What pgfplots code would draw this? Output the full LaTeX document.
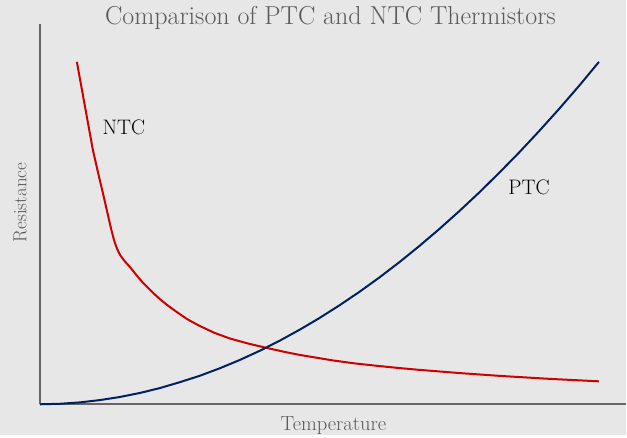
\documentclass[border=0pt]{standalone}
\usepackage{pgfplots}
\pgfplotsset{compat=1.18}
\definecolor{bg}{HTML}{E7E7E7}
\definecolor{axgray}{HTML}{666666}
\definecolor{txtgray}{HTML}{5A5A5A}
\definecolor{ntcred}{HTML}{CC0000}
\definecolor{ptcblue}{HTML}{002060}
\begin{document}
\begin{tikzpicture}[x=1pt,y=1pt]
\fill[bg] (-40,-31) rectangle (587,405);
\begin{axis}[
    at={(0,0)}, anchor=origin,
    scale only axis,
    width=587pt, height=381pt,
    xmin=0, xmax=587, ymin=0, ymax=381,
    axis x line=bottom, axis y line=left,
    axis line style={-, axgray, line width=2.2pt},
    ticks=none,
    clip=false,
]
% NTC curve
\addplot[ntcred, line width=2pt, line join=round] coordinates {
    (37,343) (41,321) (45,299) (49,277) (53,255) (58,233) (63,212)
    (68,190) (71,177) (73,169) (75,162) (77,156.5) (79,152) (81,148.5)
    (84,144.5) (87,141) (91,136.5) (95,131.5) (99,126.5) (103,122)
    (108,117) (114,111) (120,105.5) (128,99) (137,92.5) (148,85)
    (160,78.5) (175,71.5) (190,66) (208,61) (227,56.5) (245,52.5)
    (260,49.5) (275,47) (293,44) (315,41) (340,38.3) (360,36.3)
    (380,34.5) (420,31.3) (460,28.5) (510,25.5) (560,23)
};
% PTC curve
\addplot[ptcblue, line width=2pt, line join=round] coordinates {
    (0,0) (20,0.5) (40,1.9) (60,4.2) (80,7.3) (100,11.3) (120,16.2)
    (140,22.1) (160,28.5) (180,36) (200,44.3) (220,53.5) (240,63.6)
    (260,74.6) (280,86.4) (300,99.1) (320,112.6) (340,127) (360,142.3)
    (380,158.5) (400,175.5) (420,193.4) (440,212.1) (460,231.8)
    (480,252.2) (500,273.6) (520,295.8) (540,318.9) (560,343)
};
\node[font=\fontsize{21}{24}\selectfont] at (axis cs:84,277) {NTC};
\node[font=\fontsize{21}{24}\selectfont] at (axis cs:490,217) {PTC};
\node[txtgray, font=\fontsize{26}{30}\selectfont] at (axis cs:291,387) {Comparison of PTC and NTC Thermistors};
\node[txtgray, font=\fontsize{20.5}{24}\selectfont] at (axis cs:294,-21) {Temperature};
\node[txtgray, rotate=90, font=\fontsize{19}{22}\selectfont] at (axis cs:-20,202) {Resistance};
\end{axis}
\end{tikzpicture}
\end{document}
